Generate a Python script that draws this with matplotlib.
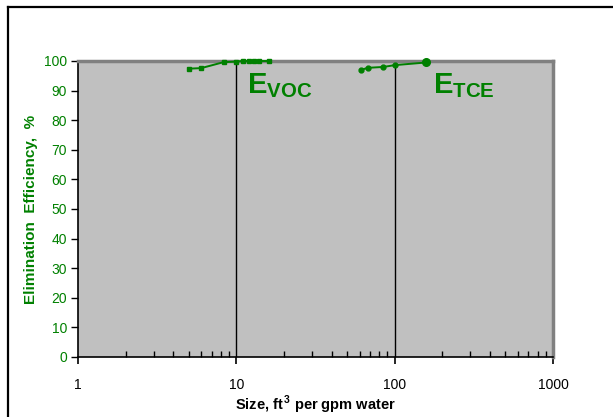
import numpy as np
import matplotlib.pyplot as plt
from matplotlib.lines import Line2D
from matplotlib.ticker import LogLocator, FixedLocator, NullFormatter

plt.rcParams['font.family'] = ['Liberation Sans', 'DejaVu Sans']

# data
voc_size = [5.0, 6.0, 8.3, 10.0, 11.0, 12.0, 13.0, 14.0, 16.0]
voc_eff = [97.4, 97.6, 99.6, 99.8, 100.0, 100.0, 100.0, 100.0, 100.0]
tce_size = [61.0, 68.0, 85.0, 100.0, 158.0]
tce_eff = [97.0, 97.7, 98.0, 98.6, 99.5]
y_ticks = [0, 10, 20, 30, 40, 50, 60, 70, 80, 90, 100]
x_ticks = [1, 10, 100, 1000]

green = '#008000'


def main():
    fig = plt.figure(figsize=(6.13, 4.17), dpi=100)
    # outer frame: only left and top sides are inside the picture
    x0 = 7.5 / 613
    y0 = 1 - 6.5 / 417
    fig.add_artist(Line2D([x0, x0], [-0.1, y0], transform=fig.transFigure,
                          color='black', linewidth=1.6))
    fig.add_artist(Line2D([x0, 1.1], [y0, y0], transform=fig.transFigure,
                          color='black', linewidth=1.6))

    ax = fig.add_axes([78 / 613, 60 / 417, 475 / 613, 296 / 417])
    ax.set_facecolor('#c0c0c0')
    ax.set_xscale('log')
    ax.set_xlim(1, 1000)
    ax.set_ylim(0, 100)

    for x in [10, 100]:
        ax.axvline(x, color='black', linewidth=1.0, zorder=1)

    ax.plot(voc_size, voc_eff, color=green, marker='s', markersize=3.5,
            linewidth=1.4, clip_on=False, zorder=3)
    ax.plot(tce_size, tce_eff, color=green, marker='o', markersize=3.5,
            linewidth=1.4, clip_on=False, zorder=3)
    ax.plot(tce_size[-1:], tce_eff[-1:], color=green, marker='o',
            markersize=5.5, clip_on=False, zorder=3)

    ax.text(11.7, 89, r'E$_{\mathregular{VOC}}$', color=green, fontsize=21,
            fontweight='bold', va='baseline')
    ax.text(175, 89, r'E$_{\mathregular{TCE}}$', color=green, fontsize=21,
            fontweight='bold', va='baseline')

    ax.xaxis.set_major_locator(FixedLocator(x_ticks))
    ax.set_xticklabels([str(v) for v in x_ticks])
    ax.xaxis.set_minor_locator(LogLocator(base=10, subs=np.arange(2, 10)))
    ax.xaxis.set_minor_formatter(NullFormatter())
    ax.set_yticks(y_ticks)

    ax.tick_params(axis='x', which='major', direction='out', length=5,
                   width=1.2, labelsize=10, pad=10, colors='black')
    ax.tick_params(axis='x', which='minor', direction='in', length=4,
                   width=1.0)
    ax.tick_params(axis='y', which='major', direction='out', length=5,
                   width=1.0, labelsize=10, labelcolor=green, pad=3)
    ax.tick_params(axis='y', which='minor', left=False)

    for s in ['left', 'bottom']:
        ax.spines[s].set_color('black')
        ax.spines[s].set_linewidth(1.2)
    for s in ['top', 'right']:
        ax.spines[s].set_color('#808080')
        ax.spines[s].set_linewidth(2.5)

    ax.set_xlabel(r'Size, ft$^{\,\mathregular{3}}$ per gpm water',
                  fontsize=10.5, fontweight='bold', labelpad=1)
    ax.set_ylabel('Elimination  Efficiency,  %', fontsize=11,
                  fontweight='bold', color=green, labelpad=4)

    fig.savefig('out.png', dpi=100)


if __name__ == '__main__':
    main()
